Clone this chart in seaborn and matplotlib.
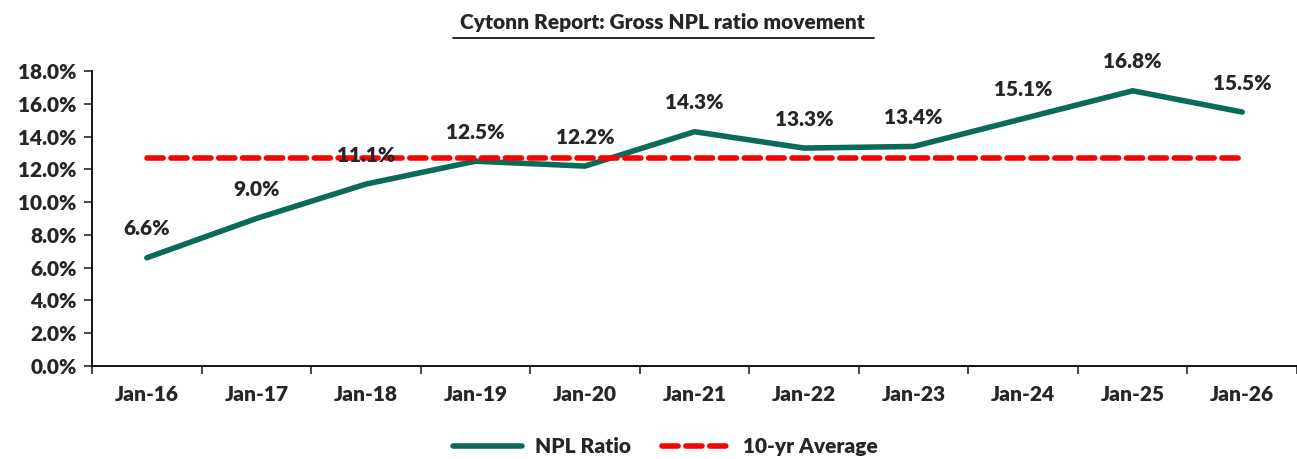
import matplotlib
matplotlib.use("Agg")
import matplotlib.pyplot as plt
import seaborn as sns
import pandas as pd
from matplotlib.lines import Line2D
from matplotlib.ticker import FuncFormatter, FixedLocator

# chart data
months = ['Jan-16', 'Jan-17', 'Jan-18', 'Jan-19', 'Jan-20', 'Jan-21',
          'Jan-22', 'Jan-23', 'Jan-24', 'Jan-25', 'Jan-26']
npl_ratio = [6.6, 9.0, 11.1, 12.5, 12.2, 14.3, 13.3, 13.4, 15.1, 16.8, 15.5]
ten_yr_avg = [12.7] * len(months)

df = pd.DataFrame({'month': months, 'NPL Ratio': npl_ratio, '10-yr Average': ten_yr_avg})
df['x'] = range(len(df))

sns.set_style('white')
plt.rcParams['font.family'] = ['Lato', 'DejaVu Sans']
W = 'heavy'
FS = 15

fig = plt.figure(figsize=(12.97, 4.59), dpi=100)
ax = fig.add_axes([0.071, 0.203, 0.929, 0.642])

sns.lineplot(data=df, x='x', y='NPL Ratio', ax=ax, color='#0b6b5a', linewidth=4,
             label='NPL Ratio', solid_capstyle='round')
sns.lineplot(data=df, x='x', y='10-yr Average', ax=ax, color='#ff0000', linewidth=4,
             linestyle=(0, (2.9, 1.4)), dash_capstyle='round', label='10-yr Average')

# data labels above each point
for i, v in enumerate(npl_ratio):
    ax.annotate(f'{v:.1f}%', (i, v), xytext=(0, 14), textcoords='offset points',
                ha='center', va='bottom', fontsize=FS, fontweight=W)

ax.set_xlim(-0.5, len(months) - 0.5)
ax.set_ylim(0, 18)
ax.set_yticks([0, 2, 4, 6, 8, 10, 12, 14, 16, 18])
ax.yaxis.set_major_formatter(FuncFormatter(lambda v, p: f'{v:.1f}%'))
ax.set_xticks(df['x'])
ax.set_xticklabels(months)
ax.xaxis.set_minor_locator(FixedLocator([i - 0.5 for i in range(len(months) + 1)]))
ax.tick_params(axis='x', which='major', length=0, pad=14, labelsize=FS)
ax.tick_params(axis='x', which='minor', length=6, width=1.2, direction='out', bottom=True)
ax.tick_params(axis='y', length=6, width=1.2, direction='out', left=True, labelsize=FS, pad=5)
for t in ax.get_xticklabels() + ax.get_yticklabels():
    t.set_fontweight(W)

ax.set_xlabel('')
ax.set_ylabel('')
for s in ['top', 'right']:
    ax.spines[s].set_visible(False)
for s in ['left', 'bottom']:
    ax.spines[s].set_color('black')
    ax.spines[s].set_linewidth(1.3)

ax.legend(loc='center', bbox_to_anchor=(0.476, -0.275), ncol=2, frameon=False,
          handlelength=3.3, handletextpad=0.6, columnspacing=1.5,
          prop={'weight': W, 'size': FS})

# underlined title
fig.text(0.511, 0.952, 'Cytonn Report: Gross NPL ratio movement', ha='center', va='center',
         fontsize=FS, fontweight=W)
fig.add_artist(Line2D([0.349, 0.674], [0.918, 0.918], color='black', linewidth=1.2))

fig.savefig('out.png', dpi=100)
